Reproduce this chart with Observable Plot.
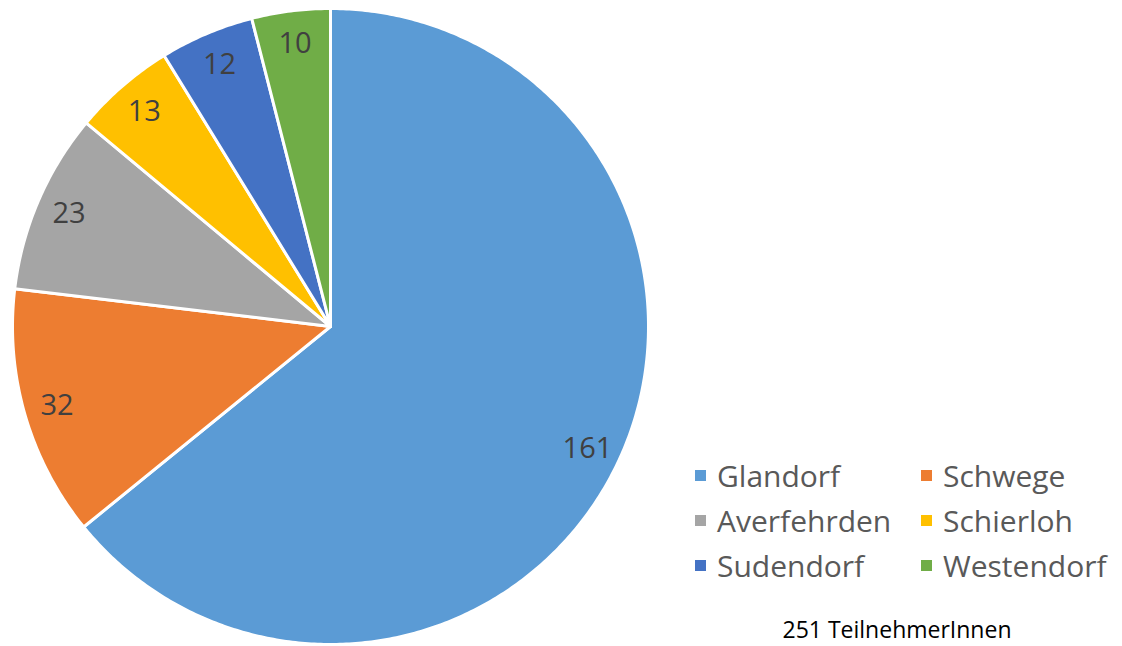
<!DOCTYPE html>
<html>
<head>
<meta charset="utf-8">
<script src="https://cdn.jsdelivr.net/npm/d3@7"></script>
<script src="https://cdn.jsdelivr.net/npm/@observablehq/plot@0.6"></script>
<style>
  body { margin: 0; background: #fff; font-family: "Open Sans", sans-serif; }
  #wrap { position: relative; width: 1122px; height: 646px; }
  #chart { position: absolute; left: 0; top: 0; }
  #legend { position: absolute; left: 695px; top: 453px; display: grid; grid-template-columns: 226px 200px; row-gap: 0; }
  .item { display: flex; align-items: center; height: 45px; font-size: 30px; color: #595959; white-space: nowrap; }
  .sw { width: 11px; height: 11px; margin-right: 11px; flex: none; }
  #caption { position: absolute; left: 747px; width: 300px; top: 613px; text-align: center; font-size: 23px; color: #000; white-space: nowrap; }
</style>
</head>
<body>
<div id="wrap">
  <div id="chart"></div>
  <div id="legend"></div>
  <div id="caption"></div>
</div>
<script>
const categories = ["Glandorf", "Schwege", "Averfehrden", "Schierloh", "Sudendorf", "Westendorf"];
const values = [161, 32, 23, 13, 12, 10];
const colors = ["#5B9BD5", "#ED7D31", "#A5A5A5", "#FFC000", "#4472C4", "#70AD47"];
const captionText = "251 TeilnehmerInnen";

const total = d3.sum(values);
const polys = [];
const labels = [];
let cum = 0;
categories.forEach((c, i) => {
  const a0 = cum / total * 2 * Math.PI;
  cum += values[i];
  const a1 = cum / total * 2 * Math.PI;
  const n = Math.max(2, Math.ceil((a1 - a0) / 0.01));
  polys.push({cat: c, x: 0, y: 0, k: 0});
  for (let j = 0; j <= n; j++) {
    const a = a0 + (a1 - a0) * j / n;
    polys.push({cat: c, x: Math.sin(a), y: Math.cos(a), k: j + 1});
  }
  polys.push({cat: c, x: 0, y: 0, k: n + 2});
  const am = (a0 + a1) / 2;
  const r = 0.895;
  labels.push({cat: c, value: values[i], x: Math.sin(am) * r, y: Math.cos(am) * r});
});

const plot = Plot.plot({
  width: 1122,
  height: 646,
  margin: 0,
  x: {domain: [-1, 1], range: [12, 648], axis: null},
  y: {domain: [-1, 1], range: [644, 8], axis: null},
  color: {domain: categories, range: colors},
  style: {fontFamily: "Open Sans, sans-serif", background: "transparent"},
  marks: [
    Plot.line(polys, {x: "x", y: "y", z: "cat", fill: "cat", stroke: "#fff", strokeWidth: 3, strokeLinejoin: "round", curve: "linear-closed"}),
    Plot.text(labels, {x: "x", y: "y", text: d => String(d.value), fill: "#404040", fontSize: 29})
  ]
});
document.getElementById("chart").appendChild(plot);

const legend = document.getElementById("legend");
categories.forEach((c, i) => {
  const it = document.createElement("div");
  it.className = "item";
  const sw = document.createElement("span");
  sw.className = "sw";
  sw.style.background = colors[i];
  it.appendChild(sw);
  it.appendChild(document.createTextNode(c));
  legend.appendChild(it);
});
document.getElementById("caption").textContent = captionText;
</script>
</body>
</html>
